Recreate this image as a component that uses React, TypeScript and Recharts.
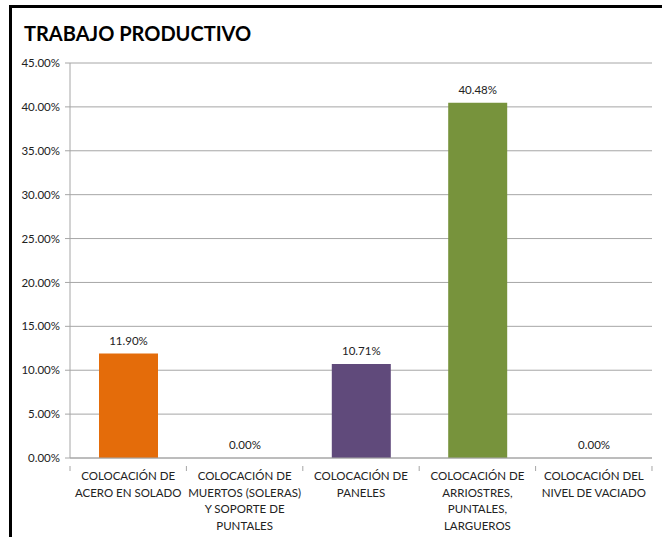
import React from "react";
import { BarChart, Bar, XAxis, YAxis, CartesianGrid, Cell, LabelList } from "recharts";

const categories = [
  "COLOCACIÓN DE|ACERO EN SOLADO",
  "COLOCACIÓN DE|MUERTOS (SOLERAS)|Y SOPORTE DE|PUNTALES",
  "COLOCACIÓN DE|PANELES",
  "COLOCACIÓN DE|ARRIOSTRES,|PUNTALES,|LARGUEROS",
  "COLOCACIÓN DEL|NIVEL DE VACIADO",
];
const values = [11.9, 0.0, 10.71, 40.48, 0.0];
const colors = ["#E46C0A", "#604A7B", "#604A7B", "#77933C", "#604A7B"];
const yTicks = [0, 5, 10, 15, 20, 25, 30, 35, 40, 45];
const title = "TRABAJO PRODUCTIVO";

const data = categories.map((c, i) => ({ name: c, value: values[i] }));

const FONT = "Lato, 'Open Sans', sans-serif";

const XTick = (props: any) => {
  const { x, y, payload, index, width } = props;
  const band = (width || 582) / categories.length;
  const lines = String(payload.value).split("|");
  const isLast = index === categories.length - 1;
  return (
    <g transform={`translate(${x},${y})`}>
      <line x1={-band / 2} x2={-band / 2} y1={0} y2={5} stroke="#A6A6A6" />
      {isLast && <line x1={band / 2} x2={band / 2} y1={0} y2={5} stroke="#A6A6A6" />}
      {lines.map((l: string, i: number) => (
        <text
          key={i}
          x={0}
          y={14 + i * 16.5}
          textAnchor="middle"
          fontSize={11.5}
          fontFamily={FONT}
          fill="#222"
        >
          {l}
        </text>
      ))}
    </g>
  );
};

export default function App() {
  return (
    <div
      style={{
        position: "absolute",
        left: 0,
        top: 0,
        width: 662,
        height: 537,
        background: "#fff",
        overflow: "hidden",
      }}
    >
      <div
        style={{
          position: "absolute",
          left: 9,
          top: 5,
          width: 700,
          height: 600,
          borderLeft: "3px solid #000",
          borderTop: "3px solid #000",
        }}
      />
      <div
        style={{
          position: "absolute",
          left: 24,
          top: 21,
          fontFamily: FONT,
          fontWeight: 700,
          fontSize: 20,
          color: "#000",
          whiteSpace: "nowrap",
        }}
      >
        {title}
      </div>
      <div style={{ position: "absolute", left: 0, top: 0 }}>
        <BarChart
          width={662}
          height={537}
          data={data}
          margin={{ top: 63, right: 10, left: 0, bottom: 0 }}
          barSize={59}
        >
          <CartesianGrid vertical={false} stroke="#A6A6A6" strokeWidth={1} />
          <YAxis
            width={70}
            domain={[0, 45]}
            ticks={yTicks}
            interval={0}
            tickFormatter={(v: number) => v.toFixed(2) + "%"}
            axisLine={{ stroke: "#A6A6A6" }}
            tickLine={{ stroke: "#A6A6A6" }}
            tickSize={5}
            tickMargin={5}
            tick={{ fontSize: 11.5, fontFamily: FONT, fill: "#222" }}
          />
          <XAxis
            dataKey="name"
            height={79}
            interval={0}
            axisLine={{ stroke: "#A6A6A6" }}
            tickLine={false}
            tick={<XTick />}
          />
          <Bar dataKey="value" isAnimationActive={false} minPointSize={0.01}>
            {data.map((d, i) => (
              <Cell key={i} fill={colors[i]} />
            ))}
            <LabelList
              dataKey="value"
              position="top"
              offset={9}
              formatter={(v: number) => Number(v).toFixed(2) + "%"}
              style={{ fontSize: 11.5, fontFamily: FONT, fill: "#222" }}
            />
          </Bar>
        </BarChart>
      </div>
    </div>
  );
}
